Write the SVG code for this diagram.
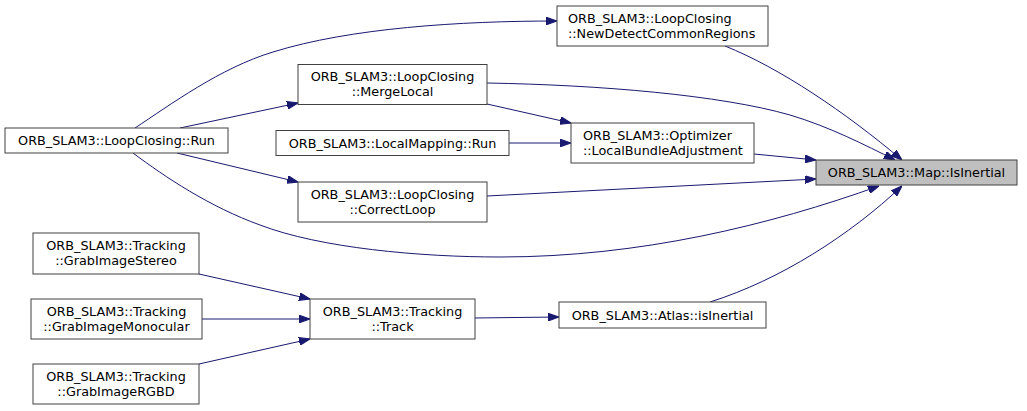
<svg xmlns="http://www.w3.org/2000/svg" width="1027" height="411" viewBox="0 0 1027 411">
<defs>
<style>
.n rect{fill:#ffffff;stroke:#404040;stroke-width:1}
.n.hl rect{fill:#bfbfbf}
.n text{font-family:"DejaVu Sans",sans-serif;font-size:12.8px;fill:#000000}
.c{text-anchor:middle}
.e path{fill:none;stroke:#191970;stroke-width:1;marker-end:url(#ah)}
</style>
<marker id="ah" markerUnits="userSpaceOnUse" viewBox="0 0 10 7" refX="10" refY="3.5" markerWidth="11" markerHeight="8" orient="auto">
<polygon points="0,0 10,3.5 0,7" fill="#191970" stroke="#191970"/>
</marker>
</defs>
<rect width="1027" height="411" fill="#ffffff"/>
<g id="edges" class="e">
<path d="M135,128 C170,105 220,68 273,52 C350,28 460,21 557,21"/>
<path d="M725,46 C780,68 845,112 902,160"/>
<path d="M180,128 L298,103"/>
<path d="M487,83 C600,85 720,95 790,115 C830,127 865,145 895,160"/>
<path d="M487,104 L571,123"/>
<path d="M509,143 L571,143"/>
<path d="M754,154 L816,160"/>
<path d="M487,196 L816,179"/>
<path d="M177,153 L298,182"/>
<path d="M133,153 C165,177 210,207 260,225 C320,248 420,257 500,257 C640,257 770,225 879,186"/>
<path d="M199,274 L310,299"/>
<path d="M202,319 L310,319"/>
<path d="M199,364 L310,339"/>
<path d="M475,318 L559,317"/>
<path d="M710,302 C780,280 850,235 902,186"/>
</g>
<g id="n_lc_run" class="n"><rect x="5" y="128" width="223" height="25"/><text class="c" x="116.5" y="145">ORB_SLAM3::LoopClosing::Run</text></g>
<g id="n_mergelocal" class="n"><rect x="298" y="64.5" width="189" height="40"/><text class="c" x="392.5" y="81">ORB_SLAM3::LoopClosing</text><text class="c" x="392.5" y="96">::MergeLocal</text></g>
<g id="n_lm_run" class="n"><rect x="276" y="130.5" width="233" height="25"/><text class="c" x="392.5" y="147.5">ORB_SLAM3::LocalMapping::Run</text></g>
<g id="n_correctloop" class="n"><rect x="298" y="182" width="189" height="40"/><text class="c" x="392.5" y="198.5">ORB_SLAM3::LoopClosing</text><text class="c" x="392.5" y="213.5">::CorrectLoop</text></g>
<g id="n_newdetect" class="n"><rect x="557" y="6" width="211" height="40"/><text x="568" y="22.5">ORB_SLAM3::LoopClosing</text><text x="568" y="37.5">::NewDetectCommonRegions</text></g>
<g id="n_lba" class="n"><rect x="571" y="123" width="183" height="40"/><text x="583" y="139.5">ORB_SLAM3::Optimizer</text><text x="583" y="154.5">::LocalBundleAdjustment</text></g>
<g id="n_isinertial" class="n hl"><rect x="816" y="160" width="201" height="25"/><text class="c" x="916.5" y="177">ORB_SLAM3::Map::IsInertial</text></g>
<g id="n_stereo" class="n"><rect x="33" y="233" width="166" height="41"/><text class="c" x="116" y="250">ORB_SLAM3::Tracking</text><text class="c" x="116" y="265">::GrabImageStereo</text></g>
<g id="n_mono" class="n"><rect x="31" y="299" width="171" height="40"/><text class="c" x="116.5" y="315.5">ORB_SLAM3::Tracking</text><text class="c" x="116.5" y="330.5">::GrabImageMonocular</text></g>
<g id="n_rgbd" class="n"><rect x="33" y="364" width="166" height="40"/><text class="c" x="116" y="380.5">ORB_SLAM3::Tracking</text><text class="c" x="116" y="395.5">::GrabImageRGBD</text></g>
<g id="n_track" class="n"><rect x="310" y="299" width="165" height="40"/><text class="c" x="392.5" y="315.5">ORB_SLAM3::Tracking</text><text class="c" x="392.5" y="330.5">::Track</text></g>
<g id="n_atlas" class="n"><rect x="559" y="302" width="207" height="26"/><text class="c" x="662.5" y="319.5">ORB_SLAM3::Atlas::isInertial</text></g>
</svg>
